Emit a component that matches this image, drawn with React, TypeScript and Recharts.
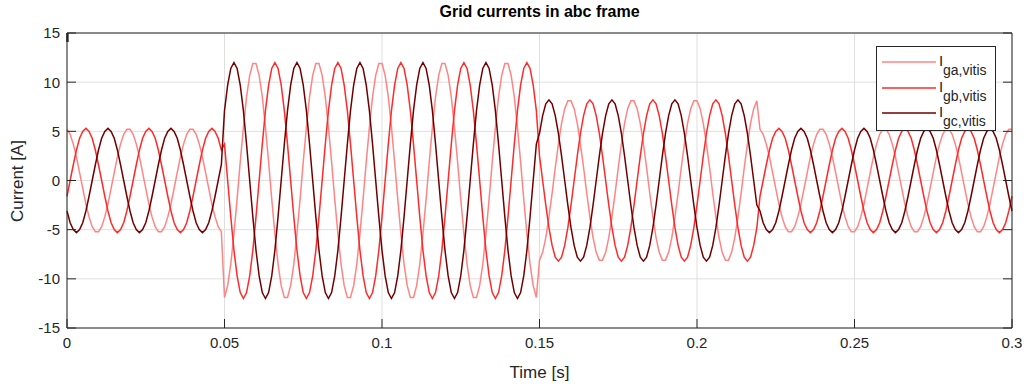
import React from 'react';
import { LineChart, Line, XAxis, YAxis, CartesianGrid, Legend } from 'recharts';

// logged at 1 ms, 0 .. 0.3 s
const sampleStep = 0.001;

// phase a grid current [A]
const igaVitis = [
  // 0.000 - 0.049
  5.2, 4.7, 3.7, 2.4, 0.8, -0.8, -2.4, -3.7, -4.7, -5.2, -5.2, -4.7, -3.7, -2.4, -0.8, 0.8, 2.4, 3.7, 4.7, 5.2,
  5.2, 4.7, 3.7, 2.4, 0.8, -0.8, -2.4, -3.7, -4.7, -5.2, -5.2, -4.7, -3.7, -2.4, -0.8, 0.8, 2.4, 3.7, 4.7, 5.2,
  5.2, 4.7, 3.7, 2.4, 0.8, -0.8, -2.4, -3.7, -4.7, -5.2,
  // 0.050 - 0.149
  -11.9, -10.7, -8.5, -5.4, -1.9, 1.9, 5.4, 8.5, 10.7, 11.9,
  11.9, 10.7, 8.5, 5.4, 1.9, -1.9, -5.4, -8.5, -10.7, -11.9, -11.9, -10.7, -8.5, -5.4, -1.9, 1.9, 5.4, 8.5, 10.7, 11.9,
  11.9, 10.7, 8.5, 5.4, 1.9, -1.9, -5.4, -8.5, -10.7, -11.9, -11.9, -10.7, -8.5, -5.4, -1.9, 1.9, 5.4, 8.5, 10.7, 11.9,
  11.9, 10.7, 8.5, 5.4, 1.9, -1.9, -5.4, -8.5, -10.7, -11.9, -11.9, -10.7, -8.5, -5.4, -1.9, 1.9, 5.4, 8.5, 10.7, 11.9,
  11.9, 10.7, 8.5, 5.4, 1.9, -1.9, -5.4, -8.5, -10.7, -11.9, -11.9, -10.7, -8.5, -5.4, -1.9, 1.9, 5.4, 8.5, 10.7, 11.9,
  11.9, 10.7, 8.5, 5.4, 1.9, -1.9, -5.4, -8.5, -10.7, -11.9,
  // 0.150 - 0.219
  -8.1, -7.3, -5.8, -3.7, -1.3, 1.3, 3.7, 5.8, 7.3, 8.1,
  8.1, 7.3, 5.8, 3.7, 1.3, -1.3, -3.7, -5.8, -7.3, -8.1, -8.1, -7.3, -5.8, -3.7, -1.3, 1.3, 3.7, 5.8, 7.3, 8.1,
  8.1, 7.3, 5.8, 3.7, 1.3, -1.3, -3.7, -5.8, -7.3, -8.1, -8.1, -7.3, -5.8, -3.7, -1.3, 1.3, 3.7, 5.8, 7.3, 8.1,
  8.1, 7.3, 5.8, 3.7, 1.3, -1.3, -3.7, -5.8, -7.3, -8.1, -8.1, -7.3, -5.8, -3.7, -1.3, 1.3, 3.7, 5.8, 7.3, 8.1,
  // 0.220 - 0.300
  5.2, 4.7, 3.7, 2.4, 0.8, -0.8, -2.4, -3.7, -4.7, -5.2, -5.2, -4.7, -3.7, -2.4, -0.8, 0.8, 2.4, 3.7, 4.7, 5.2,
  5.2, 4.7, 3.7, 2.4, 0.8, -0.8, -2.4, -3.7, -4.7, -5.2, -5.2, -4.7, -3.7, -2.4, -0.8, 0.8, 2.4, 3.7, 4.7, 5.2,
  5.2, 4.7, 3.7, 2.4, 0.8, -0.8, -2.4, -3.7, -4.7, -5.2, -5.2, -4.7, -3.7, -2.4, -0.8, 0.8, 2.4, 3.7, 4.7, 5.2,
  5.2, 4.7, 3.7, 2.4, 0.8, -0.8, -2.4, -3.7, -4.7, -5.2, -5.2, -4.7, -3.7, -2.4, -0.8, 0.8, 2.4, 3.7, 4.7, 5.2,
  5.2,
];

// phase b grid current [A]
const igbVitis = [
  // 0.000 - 0.049
  -1.6, 0, 1.6, 3.1, 4.3, 5.0, 5.3, 5.0, 4.3, 3.1, 1.6, 0, -1.6, -3.1, -4.3, -5.0, -5.3, -5.0, -4.3, -3.1,
  -1.6, 0, 1.6, 3.1, 4.3, 5.0, 5.3, 5.0, 4.3, 3.1, 1.6, 0, -1.6, -3.1, -4.3, -5.0, -5.3, -5.0, -4.3, -3.1,
  -1.6, 0, 1.6, 3.1, 4.3, 5.0, 5.3, 5.0, 4.3, 3.1,
  // 0.050 - 0.149
  3.7, 0, -3.7, -7.1, -9.7, -11.4, -12, -11.4, -9.7, -7.1,
  -3.7, 0, 3.7, 7.1, 9.7, 11.4, 12, 11.4, 9.7, 7.1, 3.7, 0, -3.7, -7.1, -9.7, -11.4, -12, -11.4, -9.7, -7.1,
  -3.7, 0, 3.7, 7.1, 9.7, 11.4, 12, 11.4, 9.7, 7.1, 3.7, 0, -3.7, -7.1, -9.7, -11.4, -12, -11.4, -9.7, -7.1,
  -3.7, 0, 3.7, 7.1, 9.7, 11.4, 12, 11.4, 9.7, 7.1, 3.7, 0, -3.7, -7.1, -9.7, -11.4, -12, -11.4, -9.7, -7.1,
  -3.7, 0, 3.7, 7.1, 9.7, 11.4, 12, 11.4, 9.7, 7.1, 3.7, 0, -3.7, -7.1, -9.7, -11.4, -12, -11.4, -9.7, -7.1,
  -3.7, 0, 3.7, 7.1, 9.7, 11.4, 12, 11.4, 9.7, 7.1,
  // 0.150 - 0.219
  2.5, 0, -2.5, -4.8, -6.6, -7.8, -8.2, -7.8, -6.6, -4.8,
  -2.5, 0, 2.5, 4.8, 6.6, 7.8, 8.2, 7.8, 6.6, 4.8, 2.5, 0, -2.5, -4.8, -6.6, -7.8, -8.2, -7.8, -6.6, -4.8,
  -2.5, 0, 2.5, 4.8, 6.6, 7.8, 8.2, 7.8, 6.6, 4.8, 2.5, 0, -2.5, -4.8, -6.6, -7.8, -8.2, -7.8, -6.6, -4.8,
  -2.5, 0, 2.5, 4.8, 6.6, 7.8, 8.2, 7.8, 6.6, 4.8, 2.5, 0, -2.5, -4.8, -6.6, -7.8, -8.2, -7.8, -6.6, -4.8,
  // 0.220 - 0.300
  -1.6, 0, 1.6, 3.1, 4.3, 5.0, 5.3, 5.0, 4.3, 3.1, 1.6, 0, -1.6, -3.1, -4.3, -5.0, -5.3, -5.0, -4.3, -3.1,
  -1.6, 0, 1.6, 3.1, 4.3, 5.0, 5.3, 5.0, 4.3, 3.1, 1.6, 0, -1.6, -3.1, -4.3, -5.0, -5.3, -5.0, -4.3, -3.1,
  -1.6, 0, 1.6, 3.1, 4.3, 5.0, 5.3, 5.0, 4.3, 3.1, 1.6, 0, -1.6, -3.1, -4.3, -5.0, -5.3, -5.0, -4.3, -3.1,
  -1.6, 0, 1.6, 3.1, 4.3, 5.0, 5.3, 5.0, 4.3, 3.1, 1.6, 0, -1.6, -3.1, -4.3, -5.0, -5.3, -5.0, -4.3, -3.1,
  -1.6,
];

// phase c grid current [A]
const igcVitis = [
  // 0.000 - 0.049
  -3.1, -4.3, -5.0, -5.3, -5.0, -4.3, -3.1, -1.6, 0, 1.6, 3.1, 4.3, 5.0, 5.3, 5.0, 4.3, 3.1, 1.6, 0, -1.6,
  -3.1, -4.3, -5.0, -5.3, -5.0, -4.3, -3.1, -1.6, 0, 1.6, 3.1, 4.3, 5.0, 5.3, 5.0, 4.3, 3.1, 1.6, 0, -1.6,
  -3.1, -4.3, -5.0, -5.3, -5.0, -4.3, -3.1, -1.6, 0, 1.6,
  // 0.050 - 0.149
  7.1, 9.7, 11.4, 12, 11.4, 9.7, 7.1, 3.7, 0, -3.7,
  -7.1, -9.7, -11.4, -12, -11.4, -9.7, -7.1, -3.7, 0, 3.7, 7.1, 9.7, 11.4, 12, 11.4, 9.7, 7.1, 3.7, 0, -3.7,
  -7.1, -9.7, -11.4, -12, -11.4, -9.7, -7.1, -3.7, 0, 3.7, 7.1, 9.7, 11.4, 12, 11.4, 9.7, 7.1, 3.7, 0, -3.7,
  -7.1, -9.7, -11.4, -12, -11.4, -9.7, -7.1, -3.7, 0, 3.7, 7.1, 9.7, 11.4, 12, 11.4, 9.7, 7.1, 3.7, 0, -3.7,
  -7.1, -9.7, -11.4, -12, -11.4, -9.7, -7.1, -3.7, 0, 3.7, 7.1, 9.7, 11.4, 12, 11.4, 9.7, 7.1, 3.7, 0, -3.7,
  -7.1, -9.7, -11.4, -12, -11.4, -9.7, -7.1, -3.7, 0, 3.7,
  // 0.150 - 0.219
  4.8, 6.6, 7.8, 8.2, 7.8, 6.6, 4.8, 2.5, 0, -2.5,
  -4.8, -6.6, -7.8, -8.2, -7.8, -6.6, -4.8, -2.5, 0, 2.5, 4.8, 6.6, 7.8, 8.2, 7.8, 6.6, 4.8, 2.5, 0, -2.5,
  -4.8, -6.6, -7.8, -8.2, -7.8, -6.6, -4.8, -2.5, 0, 2.5, 4.8, 6.6, 7.8, 8.2, 7.8, 6.6, 4.8, 2.5, 0, -2.5,
  -4.8, -6.6, -7.8, -8.2, -7.8, -6.6, -4.8, -2.5, 0, 2.5, 4.8, 6.6, 7.8, 8.2, 7.8, 6.6, 4.8, 2.5, 0, -2.5,
  // 0.220 - 0.300
  -3.1, -4.3, -5.0, -5.3, -5.0, -4.3, -3.1, -1.6, 0, 1.6, 3.1, 4.3, 5.0, 5.3, 5.0, 4.3, 3.1, 1.6, 0, -1.6,
  -3.1, -4.3, -5.0, -5.3, -5.0, -4.3, -3.1, -1.6, 0, 1.6, 3.1, 4.3, 5.0, 5.3, 5.0, 4.3, 3.1, 1.6, 0, -1.6,
  -3.1, -4.3, -5.0, -5.3, -5.0, -4.3, -3.1, -1.6, 0, 1.6, 3.1, 4.3, 5.0, 5.3, 5.0, 4.3, 3.1, 1.6, 0, -1.6,
  -3.1, -4.3, -5.0, -5.3, -5.0, -4.3, -3.1, -1.6, 0, 1.6, 3.1, 4.3, 5.0, 5.3, 5.0, 4.3, 3.1, 1.6, 0, -1.6,
  -3.1,
];

const timeTicks = [0, 0.05, 0.1, 0.15, 0.2, 0.25, 0.3];
const currentTicks = [-15, -10, -5, 0, 5, 10, 15];
const seriesKeys = ['iga', 'igb', 'igc'];
const seriesLabels = ['ga,vitis', 'gb,vitis', 'gc,vitis'];

const data = igaVitis.map((ia, i) => ({
  t: Math.round(i * sampleStep * 1000) / 1000,
  iga: ia,
  igb: igbVitis[i],
  igc: igcVitis[i],
}));

const COLORS = ['#ff8585', '#ff2a2a', '#700000'];
const AXIS = '#262626';
const GRID = '#dfdfdf';
const FONT = '"Liberation Sans", Arial, Helvetica, sans-serif';
const TICK_LEN = 9;
const X_MARGIN = 9;
const Y_MARGIN = 7;

const BottomTick = ({ x, y, payload }: any) => {
  const axisY = y - X_MARGIN;
  return (
    <g>
      <line x1={x} x2={x} y1={axisY} y2={axisY - TICK_LEN} stroke={AXIS} />
      <text x={x} y={y} dy="0.71em" textAnchor="middle" fill={AXIS} fontSize={15} fontFamily={FONT}>
        {String(payload.value)}
      </text>
    </g>
  );
};

const TopTick = ({ x, y }: any) => (
  <line x1={x} x2={x} y1={y} y2={y + TICK_LEN} stroke={AXIS} />
);

const LeftTick = ({ x, y, payload }: any) => {
  const axisX = x + Y_MARGIN;
  return (
    <g>
      <line x1={axisX} x2={axisX + TICK_LEN} y1={y} y2={y} stroke={AXIS} />
      <text x={x} y={y} dy="0.36em" textAnchor="end" fill={AXIS} fontSize={15} fontFamily={FONT}>
        {String(payload.value)}
      </text>
    </g>
  );
};

const RightTick = ({ x, y }: any) => (
  <line x1={x} x2={x - TICK_LEN} y1={y} y2={y} stroke={AXIS} />
);

const LegendBox = () => (
  <div
    style={{
      boxSizing: 'border-box',
      width: 120,
      height: 85,
      border: `1px solid ${AXIS}`,
      background: '#fff',
      position: 'relative',
      fontFamily: FONT,
      color: AXIS,
    }}
  >
    {seriesLabels.map((label, i) => {
      const cy = 15 + i * 25.5;
      return (
        <div key={label}>
          <svg width={54} height={4} style={{ position: 'absolute', left: 5, top: cy - 2 }}>
            <line x1={0} x2={54} y1={2} y2={2} stroke={COLORS[i]} strokeWidth={1.5} />
          </svg>
          <span style={{ position: 'absolute', left: 62, top: cy - 9, fontSize: 15, lineHeight: '15px' }}>I</span>
          <span style={{ position: 'absolute', left: 66, top: cy + 1, fontSize: 14, lineHeight: '14px' }}>{label}</span>
        </div>
      );
    })}
  </div>
);

export default function App() {
  return (
    <div style={{ position: 'absolute', left: 0, top: 0, width: 1027, height: 388, background: '#fff' }}>
      <div
        style={{
          position: 'absolute',
          left: 67,
          width: 945,
          top: 3,
          textAlign: 'center',
          fontFamily: FONT,
          fontWeight: 'bold',
          fontSize: 16,
          lineHeight: '18px',
          color: '#000',
        }}
      >
        Grid currents in abc frame
      </div>
      <LineChart width={1027} height={388} data={data} margin={{ top: 0, right: 0, bottom: 0, left: 0 }}>
        <CartesianGrid stroke={GRID} strokeWidth={1} />
        <XAxis
          dataKey="t"
          type="number"
          domain={[0, 0.3]}
          ticks={timeTicks}
          height={60}
          tickSize={0}
          tickMargin={X_MARGIN}
          tickLine={false}
          stroke={AXIS}
          tick={<BottomTick />}
          interval={0}
        />
        <XAxis
          xAxisId="top"
          orientation="top"
          type="number"
          domain={[0, 0.3]}
          allowDataOverflow
          ticks={timeTicks}
          height={33}
          tickSize={0}
          tickMargin={0}
          tickLine={false}
          stroke={AXIS}
          tick={<TopTick />}
          interval={0}
        />
        <YAxis
          type="number"
          domain={[-15, 15]}
          ticks={currentTicks}
          width={67}
          tickSize={0}
          tickMargin={Y_MARGIN}
          tickLine={false}
          stroke={AXIS}
          tick={<LeftTick />}
          interval={0}
        />
        <YAxis
          yAxisId="right"
          orientation="right"
          type="number"
          domain={[-15, 15]}
          allowDataOverflow
          ticks={currentTicks}
          width={15}
          tickSize={0}
          tickMargin={0}
          tickLine={false}
          stroke={AXIS}
          tick={<RightTick />}
          interval={0}
        />
        {seriesKeys.map((key, i) => (
          <Line
            key={key}
            dataKey={key}
            type="linear"
            stroke={COLORS[i]}
            strokeWidth={1.5}
            dot={false}
            activeDot={false}
            isAnimationActive={false}
          />
        ))}
        <Legend
          layout="horizontal"
          verticalAlign="middle"
          align="center"
          wrapperStyle={{ left: 876, top: 46, width: 120, height: 85 }}
          content={() => <LegendBox />}
        />
      </LineChart>
      <div
        style={{
          position: 'absolute',
          left: 67,
          width: 945,
          top: 363,
          textAlign: 'center',
          fontFamily: FONT,
          fontSize: 17,
          lineHeight: '20px',
          color: AXIS,
        }}
      >
        Time [s]
      </div>
      <div
        style={{
          position: 'absolute',
          left: 18,
          top: 181,
          width: 0,
          height: 0,
        }}
      >
        <div
          style={{
            position: 'absolute',
            transform: 'translate(-50%, -50%) rotate(-90deg)',
            whiteSpace: 'nowrap',
            fontFamily: FONT,
            fontSize: 17,
            lineHeight: '20px',
            color: AXIS,
          }}
        >
          Current [A]
        </div>
      </div>
    </div>
  );
}
